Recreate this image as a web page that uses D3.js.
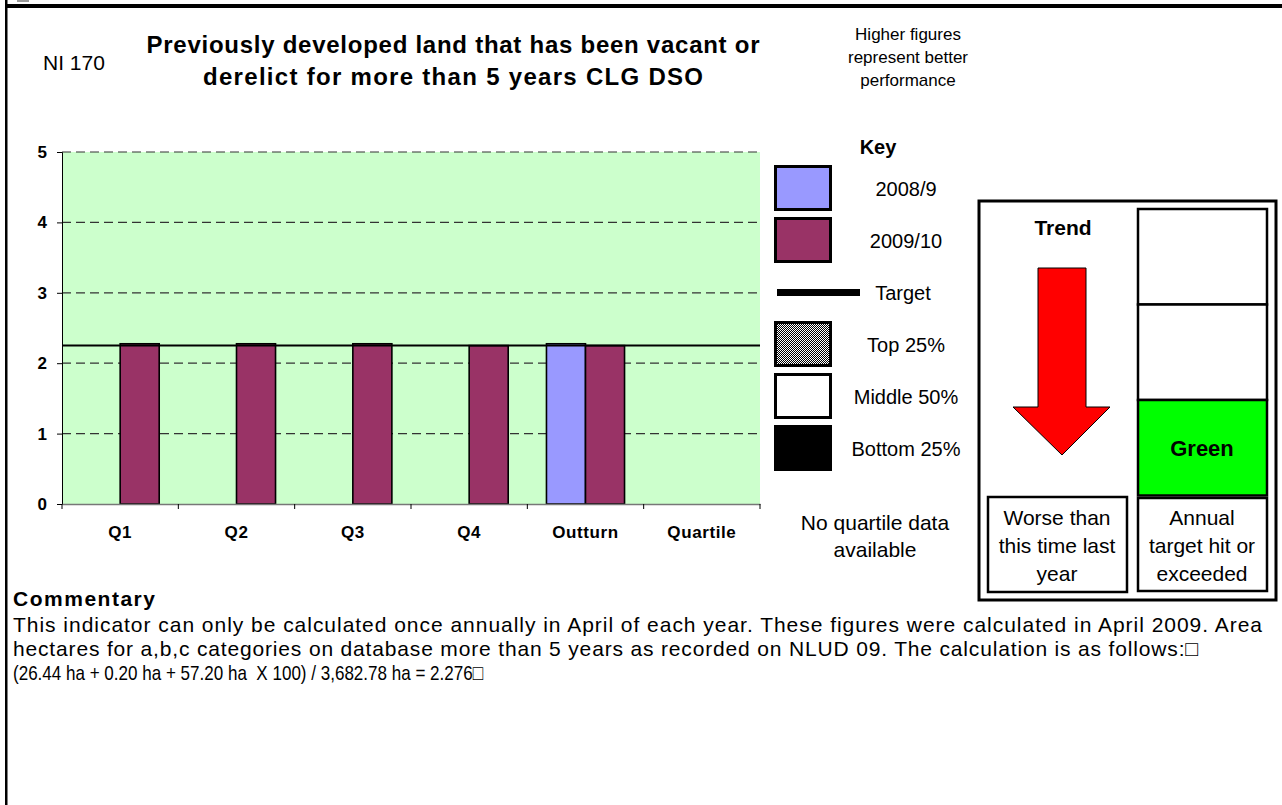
<!DOCTYPE html>
<html>
<head>
<meta charset="utf-8">
<script src="https://cdn.jsdelivr.net/npm/d3@7"></script>
<style>
  body { margin: 0; background: #fff; }
  text { font-family: "Liberation Sans", Arial, sans-serif; fill: #000; }
</style>
</head>
<body>
<svg id="chart" width="1282" height="805"></svg>
<script>
// chart data
const categories = ["Q1", "Q2", "Q3", "Q4", "Outturn", "Quartile"];
const seriesNames = ["2008/9", "2009/10"];
const values0809 = [null, null, null, null, 2.276, null];
const values0910 = [2.276, 2.276, 2.276, 2.25, 2.25, null];
const targetValue = 2.25;
const yTicks = [0, 1, 2, 3, 4, 5];
const seriesColors = ["#9999FF", "#993366"];

const legendLabels = ["2008/9", "2009/10", "Target", "Top 25%", "Middle 50%", "Bottom 25%"];
const higherLines = ["Higher figures", "represent better", "performance"];
const titleLines = ["Previously developed land that has been vacant or", "derelict for more than 5 years CLG DSO"];
const titleWidths = [613, 500];
const trendLines = ["Worse than", "this time last", "year"];
const targetLines = ["Annual", "target hit or", "exceeded"];
const ratingBoxes = ["", "", "Green"];
const ratingFills = ["#fff", "#fff", "#00FF00"];
const quartileLines = ["No quartile data", "available"];
const commentLines = [
  "This indicator can only be calculated once annually in April of each year. These figures were calculated in April 2009. Area",
  "hectares for a,b,c categories on database more than 5 years as recorded on NLUD 09. The calculation is as follows:\u25A1",
  "(26.44 ha + 0.20 ha + 57.20 ha  X 100) / 3,682.78 ha = 2.276\u25A1"
];
const commentWidths = [1249, 1185, 470];

const svg = d3.select("#chart");

// page frame
svg.append("rect").attr("x", 17).attr("y", 0).attr("width", 12).attr("height", 2).attr("fill", "#999");
svg.append("rect").attr("x", 5).attr("y", 4).attr("width", 1277).attr("height", 4).attr("fill", "#000");
svg.append("rect").attr("x", 5).attr("y", 0).attr("width", 2.5).attr("height", 805).attr("fill", "#000");

// headings
svg.append("text").attr("x", 43).attr("y", 70).style("font-size", "21px").text("NI 170");

svg.append("g").selectAll("text").data(titleLines).join("text")
  .attr("x", 453).attr("y", (d, i) => 53 + i * 32)
  .attr("text-anchor", "middle")
  .attr("textLength", (d, i) => titleWidths[i]).attr("lengthAdjust", "spacing")
  .style("font-size", "24px").style("font-weight", "bold")
  .text(d => d);

svg.append("g").selectAll("text").data(higherLines).join("text")
  .attr("x", 908).attr("y", (d, i) => 40 + i * 23)
  .attr("text-anchor", "middle")
  .style("font-size", "17px")
  .text(d => d);

// plot
const plotL = 62, plotR = 760, plotT = 152, plotB = 504;

const x0 = d3.scaleBand().domain(categories).range([plotL, plotR]).paddingInner(0).paddingOuter(0);
const x1 = d3.scaleBand().domain(seriesNames).range([0, x0.bandwidth()]).paddingInner(0).paddingOuter(0.49);
const y = d3.scaleLinear().domain([0, 5]).range([plotB, plotT]);

svg.append("rect")
  .attr("x", plotL).attr("y", y(5)).attr("width", plotR - plotL).attr("height", y(0) - y(5))
  .attr("fill", "#CCFFCC");

svg.append("g").selectAll("line").data(yTicks.filter(d => d > 0)).join("line")
  .attr("x1", plotL).attr("x2", plotR)
  .attr("y1", d => y(d)).attr("y2", d => y(d))
  .attr("stroke", "#333").attr("stroke-width", 1.2).attr("stroke-dasharray", "9,5");

const rows = categories.map((c, i) => ({ cat: c, vals: [values0809[i], values0910[i]] }));

svg.append("g").selectAll("g").data(rows).join("g")
  .attr("transform", d => `translate(${x0(d.cat)},0)`)
  .selectAll("rect")
  .data(d => d.vals.map((v, j) => ({ name: seriesNames[j], v, j })).filter(d => d.v != null))
  .join("rect")
  .attr("x", d => x1(d.name)).attr("width", x1.bandwidth())
  .attr("y", d => y(d.v)).attr("height", d => y(0) - y(d.v))
  .attr("fill", d => seriesColors[d.j])
  .attr("stroke", "#000").attr("stroke-width", 1.6);

// target line
svg.append("line")
  .attr("x1", plotL).attr("x2", plotR)
  .attr("y1", y(targetValue)).attr("y2", y(targetValue))
  .attr("stroke", "#000").attr("stroke-width", 2);

// y axis
const yAxis = svg.append("g").attr("transform", `translate(${plotL},0)`)
  .call(d3.axisLeft(y).tickValues(yTicks).tickSize(5).tickPadding(10).tickFormat(d3.format("d")));
yAxis.select(".domain").attr("stroke", "#000");
yAxis.selectAll("line").attr("stroke", "#000");
yAxis.selectAll("text")
  .style("font-size", "17px").style("font-weight", "bold")
  .style("font-family", "'Liberation Sans', Arial, sans-serif");

// x axis
const xAxis = svg.append("g").attr("transform", `translate(0,${plotB})`)
  .call(d3.axisBottom(x0).tickSize(0).tickPadding(22));
xAxis.select(".domain").attr("stroke", "#777").attr("stroke-width", 1.5);
xAxis.selectAll("text")
  .style("font-size", "17px").style("font-weight", "bold")
  .attr("letter-spacing", "0.6px")
  .style("font-family", "'Liberation Sans', Arial, sans-serif");
xAxis.selectAll(".bound").data(categories.map(c => x0(c)).concat([plotR])).join("line")
  .attr("class", "bound")
  .attr("x1", d => d).attr("x2", d => d).attr("y1", 0).attr("y2", 5)
  .attr("stroke", "#000");

// key
svg.append("text").attr("x", 878).attr("y", 154).attr("text-anchor", "middle")
  .style("font-size", "20px").style("font-weight", "bold").text("Key");

const defs = svg.append("defs");
const pat = defs.append("pattern").attr("id", "dots").attr("width", 2).attr("height", 2)
  .attr("patternUnits", "userSpaceOnUse");
pat.append("rect").attr("width", 2).attr("height", 2).attr("fill", "#fff");
pat.append("rect").attr("width", 1).attr("height", 1).attr("fill", "#000");
pat.append("rect").attr("x", 1).attr("y", 1).attr("width", 1).attr("height", 1).attr("fill", "#000");

const legendFills = [seriesColors[0], seriesColors[1], null, "url(#dots)", "#fff", "#000"];
const legend = svg.append("g").selectAll("g").data(legendLabels).join("g")
  .attr("transform", (d, i) => `translate(774,${165 + i * 52})`);

legend.each(function (d, i) {
  const g = d3.select(this);
  if (legendFills[i]) {
    g.append("rect").attr("x", 1.5).attr("y", 1.5).attr("width", 55).attr("height", 43)
      .attr("fill", legendFills[i]).attr("stroke", "#000").attr("stroke-width", 3);
  } else {
    g.append("rect").attr("x", 3).attr("y", 20).attr("width", 83).attr("height", 7).attr("fill", "#000");
  }
  g.append("text").attr("x", i === 2 ? 129 : 132).attr("y", 31)
    .attr("text-anchor", "middle").style("font-size", "20px").text(d);
});

svg.append("g").selectAll("text").data(quartileLines).join("text")
  .attr("x", 875).attr("y", (d, i) => 530 + i * 27)
  .attr("text-anchor", "middle").style("font-size", "21px").text(d => d);

// trend / rating panel
const panel = svg.append("g");
panel.append("rect").attr("x", 979).attr("y", 201).attr("width", 297).attr("height", 399)
  .attr("fill", "#fff").attr("stroke", "#000").attr("stroke-width", 3);
panel.append("text").attr("x", 1063).attr("y", 235).attr("text-anchor", "middle")
  .style("font-size", "21px").style("font-weight", "bold").text("Trend");

const arrow = d3.path();
arrow.moveTo(1038, 268); arrow.lineTo(1086, 268); arrow.lineTo(1086, 407);
arrow.lineTo(1110, 407); arrow.lineTo(1062, 455); arrow.lineTo(1013, 407);
arrow.lineTo(1038, 407); arrow.closePath();
panel.append("path").attr("d", arrow.toString()).attr("fill", "#FF0000").attr("stroke", "#000").attr("stroke-width", 1);

panel.append("rect").attr("x", 988).attr("y", 497).attr("width", 139).attr("height", 95)
  .attr("fill", "#fff").attr("stroke", "#000").attr("stroke-width", 2.5);
panel.append("g").selectAll("text").data(trendLines).join("text")
  .attr("x", 1057).attr("y", (d, i) => 525 + i * 28)
  .attr("text-anchor", "middle").style("font-size", "21px").text(d => d);

// rating column: three stacked boxes, then the caption box
ratingBoxes.forEach((label, i) => {
  const by = 209 + i * 95.5;
  panel.append("rect").attr("x", 1138).attr("y", by).attr("width", 129).attr("height", 95.5)
    .attr("fill", ratingFills[i]).attr("stroke", "#000").attr("stroke-width", 2.5);
  if (label) {
    panel.append("text").attr("x", 1202).attr("y", by + 56).attr("text-anchor", "middle")
      .style("font-size", "22px").style("font-weight", "bold").text(label);
  }
});
panel.append("rect").attr("x", 1138).attr("y", 498).attr("width", 129).attr("height", 93)
  .attr("fill", "#fff").attr("stroke", "#000").attr("stroke-width", 2.5);
panel.append("g").selectAll("text").data(targetLines).join("text")
  .attr("x", 1202).attr("y", (d, i) => 525 + i * 28)
  .attr("text-anchor", "middle").style("font-size", "21px").text(d => d);

// commentary
svg.append("text").attr("x", 13).attr("y", 606)
  .attr("textLength", 142).attr("lengthAdjust", "spacing")
  .style("font-size", "21px").style("font-weight", "bold").text("Commentary");
svg.append("g").selectAll("text").data(commentLines).join("text")
  .attr("x", 13).attr("y", (d, i) => 632 + i * 24)
  .attr("textLength", (d, i) => commentWidths[i])
  .attr("lengthAdjust", (d, i) => i === 2 ? "spacingAndGlyphs" : "spacing")
  .style("font-size", "21px").style("white-space", "pre")
  .text(d => d);
</script>
</body>
</html>
